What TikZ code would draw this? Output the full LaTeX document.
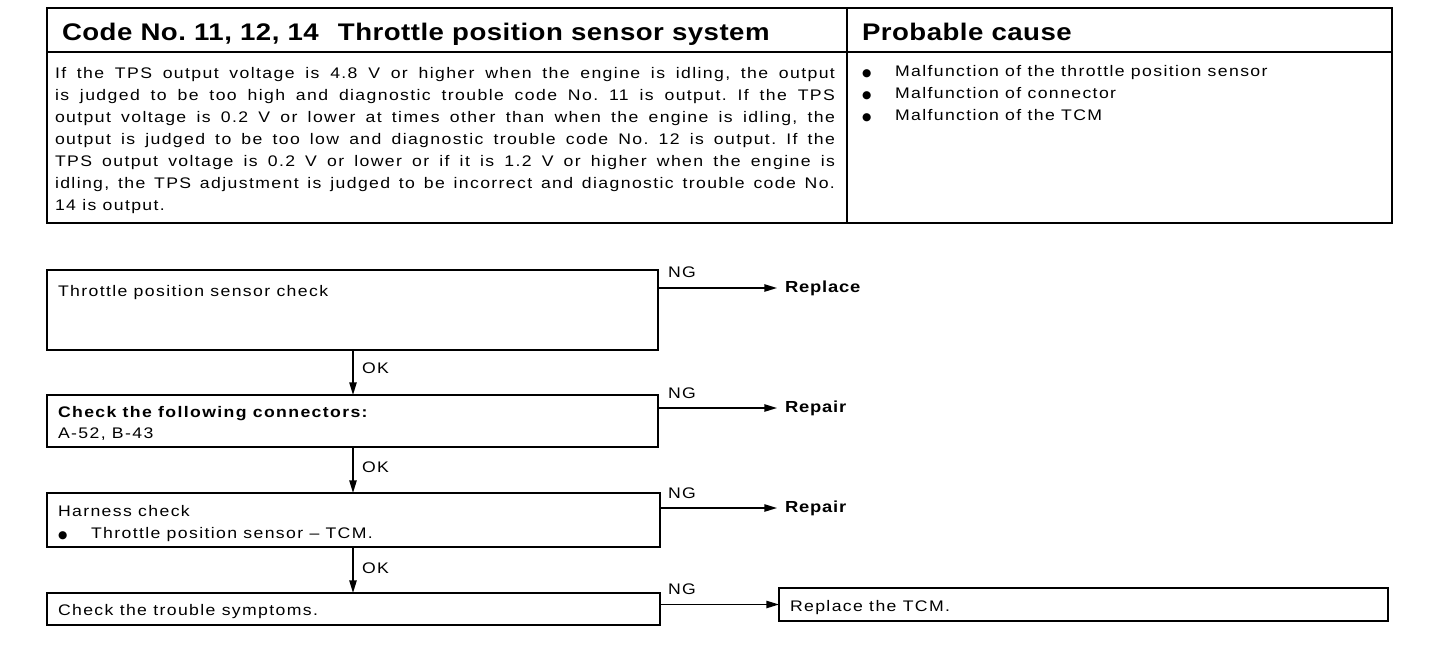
\documentclass[tikz,border=0pt]{standalone}
\usepackage{fontspec}
\setmainfont{Liberation Sans}[FakeStretch=1.15,LetterSpace=9]
\newfontfamily\hdrf{Liberation Sans Bold}[FakeStretch=1.15,LetterSpace=2]
\newfontfamily\resf{Liberation Sans Bold}[FakeStretch=1.15,LetterSpace=5]
\newfontfamily\symf{DejaVu Sans}
\usetikzlibrary{fit,arrows.meta}
\newcommand\blt{{\symf\fontsize{8}{8}\selectfont ●}}
\begin{document}
\frenchspacing
\begin{tikzpicture}[x=0.75pt,y=-0.75pt,
  every node/.style={inner sep=0pt,outer sep=0pt},
  txt/.style={font=\fontsize{11.5}{16.5}\selectfont, anchor=base west},
  hdr/.style={font=\fontsize{18}{20}\selectfont\hdrf, anchor=base west},
  box/.style={draw, line width=1.3pt, inner sep=0pt},
  arr/.style={line width=1.1pt, -{Triangle[length=9.5pt,width=5.5pt]}},
  tag/.style={font=\fontsize{11.5}{14}\selectfont, anchor=base west},
  res/.style={font=\fontsize{12}{14}\selectfont\resf, anchor=base west}]
\useasboundingbox (0,0) rectangle (1456,646);
% ---- top table
\node[draw, line width=2pt, fit={(47,8) (1392,223)}] (tbl) {};
\draw[line width=1.3pt] (47,52) -- (1392,52);
\draw[line width=1.3pt] (847,8) -- (847,223);
\node[hdr] (h1) at (62,40) {Code No. 11, 12, 14\hspace{0.8em}Throttle position sensor system};
\node[hdr] (h2) at (862,40) {Probable cause};
\node[anchor=north west, text width=585pt, align=justify,
      font=\fontsize{11.5}{16.5}\selectfont] (body) at (55,67)
 {\frenchspacing If the TPS output voltage is 4.8 V or higher when the engine is idling, the output\linebreak
  is judged to be too high and diagnostic trouble code No. 11 is output. If the TPS\linebreak
  output voltage is 0.2 V or lower at times other than when the engine is idling, the\linebreak
  output is judged to be too low and diagnostic trouble code No. 12 is output. If the\linebreak
  TPS output voltage is 0.2 V or lower or if it is 1.2 V or higher when the engine is\linebreak
  idling, the TPS adjustment is judged to be incorrect and diagnostic trouble code No.\linebreak
  14 is output.};
\node[txt] (c1b) at (862,76) {\blt};
\node[txt] (c1) at (895,76) {Malfunction of the throttle position sensor};
\node[txt] (c2b) at (862,98) {\blt};
\node[txt] (c2) at (895,98) {Malfunction of connector};
\node[txt] (c3b) at (862,120) {\blt};
\node[txt] (c3) at (895,120) {Malfunction of the TCM};
% ---- flowchart boxes
\node[box, fit={(47,270) (658,350)}] (b1) {};
\node[txt] (t1) at (58,296) {Throttle position sensor check};
\node[box, fit={(47,395) (658,447)}] (b2) {};
\node[txt] (t2a) at (58,417) {\bfseries Check the following connectors:};
\node[txt] (t2b) at (58,438) {A-52, B-43};
\node[box, fit={(47,493) (660,547)}] (b3) {};
\node[txt] (t3a) at (58,516) {Harness check};
\node[txt] (t3b) at (58,538) {\blt};
\node[txt] (t3c) at (91,538) {Throttle position sensor – TCM.};
\node[box, fit={(47,593) (660,625)}] (b4) {};
\node[txt] (t4) at (58,615) {Check the trouble symptoms.};
\node[box, fit={(779,588) (1388,621)}] (b5) {};
\node[txt] (t5) at (790,611) {Replace the TCM.};
% ---- results
\node[res, anchor=west] (r1) at (785,288) {Replace};
\node[res, anchor=west] (r2) at (785,408) {Repair};
\node[res, anchor=west] (r3) at (785,508) {Repair};
\coordinate (e1) at (777,288);
\coordinate (e2) at (777,408);
\coordinate (e3) at (777,508);
% ---- NG arrows
\draw[arr] (b1.east |- e1) -- (e1);
\draw[arr] (b2.east |- e2) -- (e2);
\draw[arr] (b3.east |- e3) -- (e3);
\draw[arr] (b4.east |- b5.west) -- (b5.west);
\node[tag] (ng1) at (668,277) {NG};
\node[tag] (ng2) at (668,398) {NG};
\node[tag] (ng3) at (668,498) {NG};
\node[tag] (ng4) at (668,594) {NG};
% ---- OK arrows
\draw[arr] (b1.south -| 353,0) -- (b2.north -| 353,0);
\draw[arr] (b2.south -| 353,0) -- (b3.north -| 353,0);
\draw[arr] (b3.south -| 353,0) -- (b4.north -| 353,0);
\node[tag] (ok1) at (362,373) {OK};
\node[tag] (ok2) at (362,472) {OK};
\node[tag] (ok3) at (362,573) {OK};
\end{tikzpicture}
\end{document}
